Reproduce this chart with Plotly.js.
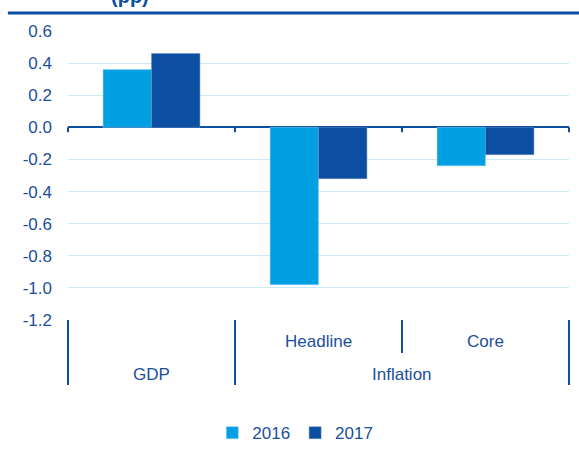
<!DOCTYPE html>
<html>
<head>
<meta charset="utf-8">
<script src="https://cdn.plot.ly/plotly-3.0.1.min.js"></script>
<style>html,body{margin:0;padding:0;background:#fff;}#chart{width:579px;height:455px;}</style>
</head>
<body>
<div id="chart"></div>
<script>
const categories = ["GDP", "Headline", "Core"];
const outerLabels = ["GDP", "Inflation"];
const innerLabels = ["Headline", "Core"];
const seriesNames = ["2016", "2017"];
const values2016 = [0.36, -0.98, -0.24];
const values2017 = [0.46, -0.32, -0.17];
const yTicks = [0.6, 0.4, 0.2, 0.0, -0.2, -0.4, -0.6, -0.8, -1.0, -1.2];
const yTickLabels = ["0.6", "0.4", "0.2", "0.0", "-0.2", "-0.4", "-0.6", "-0.8", "-1.0", "-1.2"];

const txt = "#1B4F9C";
const dark = "#0B4EA2";
const light = "#00A0E3";
const font = "Liberation Sans, Arial, sans-serif";

const traces = [
  {type: "bar", name: seriesNames[0], x: categories, y: values2016, marker: {color: light, line: {color: "#8fd0f0", width: 0.5}}},
  {type: "bar", name: seriesNames[1], x: categories, y: values2017, marker: {color: dark, line: {color: "#6f8fc8", width: 0.5}}}
];

const shapes = [];
shapes.push({type: "line", xref: "paper", yref: "paper", x0: -0.12, x1: 1.03, y0: 1.062, y1: 1.062, line: {color: dark, width: 3}});
[0, 1/3, 2/3, 1].forEach(p => shapes.push({type: "line", xref: "paper", yref: "y", x0: p, x1: p, y0: 0, y1: -0.03, line: {color: dark, width: 2}}));
[0, 1/3, 1].forEach(p => shapes.push({type: "line", xref: "paper", yref: "paper", x0: p, x1: p, y0: 0, y1: -0.225, line: {color: dark, width: 2}}));
shapes.push({type: "line", xref: "paper", yref: "paper", x0: 2/3, x1: 2/3, y0: 0, y1: -0.114, line: {color: dark, width: 2}});

const annotations = [
  {text: "<b>(pp)</b>", xref: "paper", yref: "paper", x: 0.124, y: 1.12, xanchor: "center", yanchor: "middle", showarrow: false, font: {family: font, size: 20, color: dark}},
  {text: innerLabels[0], xref: "x", yref: "paper", x: categories[1], y: -0.076, yanchor: "middle", showarrow: false, font: {family: font, size: 17, color: txt}},
  {text: innerLabels[1], xref: "x", yref: "paper", x: categories[2], y: -0.076, yanchor: "middle", showarrow: false, font: {family: font, size: 17, color: txt}},
  {text: outerLabels[0], xref: "x", yref: "paper", x: 0, y: -0.19, yanchor: "middle", showarrow: false, font: {family: font, size: 17, color: txt}},
  {text: outerLabels[1], xref: "x", yref: "paper", x: 1.5, y: -0.19, yanchor: "middle", showarrow: false, font: {family: font, size: 17, color: txt}}
];

const layout = {
  width: 579, height: 455,
  margin: {l: 68, r: 10, t: 31, b: 135, pad: 0, autoexpand: false},
  paper_bgcolor: "#fff", plot_bgcolor: "#fff",
  font: {family: font, size: 17, color: txt},
  barmode: "group", bargap: 0.42, bargroupgap: 0,
  showlegend: true,
  legend: {orientation: "h", x: 0.51, xanchor: "center", xref: "container", y: 0.048, yref: "container", yanchor: "middle", font: {family: font, size: 17, color: txt}, itemwidth: 30, traceorder: "normal"},
  xaxis: {type: "category", range: [-0.5, 2.5], showticklabels: false, showgrid: false, zeroline: false, showline: false, ticks: "", fixedrange: true, automargin: false},
  yaxis: {range: [-1.2, 0.6], tickvals: yTicks, ticktext: yTickLabels, showgrid: true, gridcolor: "#CDE8F6", gridwidth: 1, zeroline: true, zerolinecolor: dark, zerolinewidth: 2, showline: false, ticks: "", ticklabelstandoff: 15, automargin: false, tickfont: {family: font, size: 17, color: txt}},
  shapes: shapes,
  annotations: annotations
};

Plotly.newPlot("chart", traces, layout, {displayModeBar: false, staticPlot: true});
</script>
</body>
</html>
